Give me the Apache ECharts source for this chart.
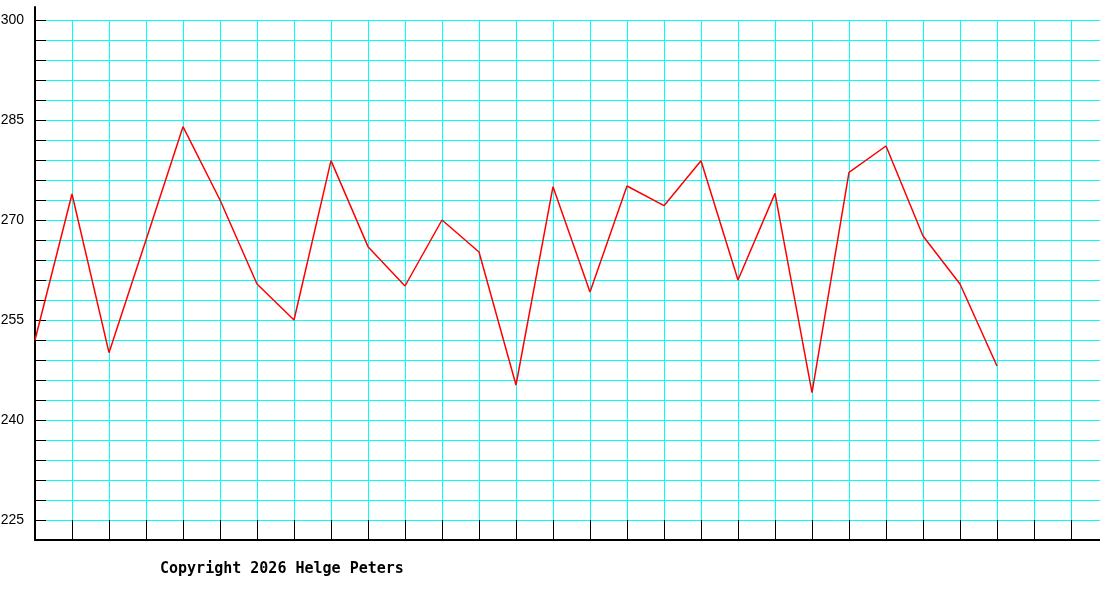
<!DOCTYPE html>
<html>
<head>
<meta charset="utf-8">
<script src="https://cdn.jsdelivr.net/npm/echarts@6/dist/echarts.min.js"></script>
<style>
  html, body { margin: 0; padding: 0; background: #fff; }
  #chart { width: 1100px; height: 600px; }
</style>
</head>
<body>
<div id="chart"></div>
<script>
// Werte (ein Punkt pro Rasterspalte)
var values = [252.0, 273.9, 250.1, 267.0, 284.0, 273.0, 260.4, 255.0, 278.9, 266.0,
              260.1, 270.0, 265.2, 245.25, 275.0, 259.2, 275.1, 272.15, 278.9, 261.0,
              274.0, 244.1, 277.15, 281.1, 267.6, 260.4, 248.1];
var yMin = 222, yMax = 300, yStep = 3;
var labelStep = 15, labelBase = 225;
var xCount = 29;
var copyright = "Copyright 2026 Helge Peters";

(function () {
  var myChart = echarts.init(document.getElementById("chart"));

  var points = values.map(function (v, i) { return [i, v]; });

  var option = {
    animation: false,
    backgroundColor: "#fff",
    grid: [
      // 37 px pro Spalte, rechts über den Rand hinaus
      { left: 35, width: 37 * xCount, top: 20, bottom: 60, outerBoundsMode: "none" },
      // nur für die Verlängerung der y-Achse nach oben
      { left: 35, top: 7, height: 13, width: 10, outerBoundsMode: "none" }
    ],
    xAxis: [
      {
        type: "value",
        min: 0,
        max: xCount,
        interval: 1,
        axisLine: { lineStyle: { color: "#000", width: 2 } },
        axisTick: { inside: true, length: 20, lineStyle: { color: "#000", width: 1 } },
        axisLabel: { show: false },
        splitLine: { show: true, lineStyle: { color: "#00ffff", width: 1 } }
      },
      { gridIndex: 1, type: "value", show: false }
    ],
    yAxis: [
      {
        type: "value",
        min: yMin,
        max: yMax,
        interval: yStep,
        axisLine: { show: true, lineStyle: { color: "#000", width: 2 } },
        axisTick: { inside: true, length: 11, lineStyle: { color: "#000", width: 1 } },
        axisLabel: {
          margin: 11,
          color: "#000",
          fontFamily: "Liberation Sans",
          fontSize: 14,
          formatter: function (v) {
            var r = Math.round(v);
            return (r - labelBase) % labelStep === 0 && r >= labelBase ? String(r) : "";
          }
        },
        splitLine: { show: true, lineStyle: { color: "#00ffff", width: 1 } }
      },
      {
        gridIndex: 1,
        type: "value",
        axisLine: { show: true, lineStyle: { color: "#000", width: 2 } },
        axisTick: { show: false },
        axisLabel: { show: false },
        splitLine: { show: false }
      }
    ],
    graphic: [
      {
        type: "text",
        left: 160,
        top: 562,
        style: {
          text: copyright,
          fill: "#000",
          font: "bold 15px 'DejaVu Sans Mono'"
        }
      }
    ],
    series: [
      {
        type: "line",
        data: points,
        symbol: "none",
        lineStyle: { color: "#ff0000", width: 1.5 },
        z: 5
      }
    ]
  };

  myChart.setOption(option);
})();
</script>
</body>
</html>
